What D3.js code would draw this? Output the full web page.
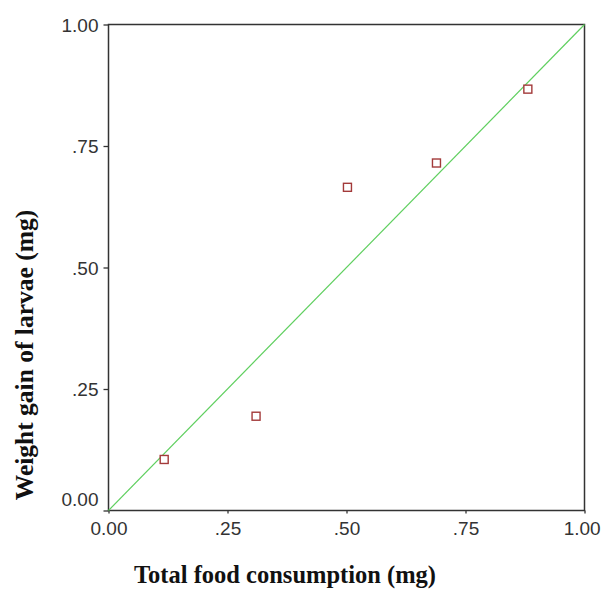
<!DOCTYPE html>
<html><head><meta charset="utf-8">
<script src="https://cdn.jsdelivr.net/npm/d3@7"></script>
<style>body{margin:0;background:#fff}svg{display:block}</style>
</head><body>
<script>
const xValues = [0.117, 0.31, 0.502, 0.689, 0.881];
const yValues = [0.105, 0.194, 0.665, 0.715, 0.867];
const tickValues = [0, 0.25, 0.5, 0.75, 1];
const tickLabels = ["0.00", ".25", ".50", ".75", "1.00"];
const fitLine = [[0, 0], [1, 1]];
const xTitle = "Total food consumption (mg)";
const yTitle = "Weight gain of larvae (mg)";

const W = 606, H = 593;
const svg = d3.select("body").append("svg").attr("width", W).attr("height", H);
const x = d3.scaleLinear().domain([0, 1]).range([108.5, 584.5]);
const y = d3.scaleLinear().domain([0, 1]).range([510.5, 24.5]);

// frame
svg.append("rect").attr("x", x(0)).attr("y", y(1))
  .attr("width", x(1) - x(0)).attr("height", y(0) - y(1))
  .attr("fill", "none").attr("stroke", "#333").attr("stroke-width", 1.5);

// y axis
const yAxis = svg.append("g").attr("transform", `translate(${x(0)},0)`)
  .call(d3.axisLeft(y).tickValues(tickValues).tickSize(5).tickSizeOuter(0)
    .tickFormat((d, i) => tickLabels[i]));
yAxis.select(".domain").remove();
yAxis.selectAll("line").attr("stroke", "#333").attr("stroke-width", 1.3);
yAxis.selectAll("text").attr("font-family", "Liberation Sans, Arial, sans-serif")
  .attr("font-size", 19).attr("fill", "#333").attr("x", -10)
  .attr("dy", (d) => d === 0 ? "-0.25em" : "0.35em");

// x axis
const xAxis = svg.append("g").attr("transform", `translate(0,${y(0)})`)
  .call(d3.axisBottom(x).tickValues(tickValues).tickSize(3).tickSizeOuter(0)
    .tickFormat((d, i) => tickLabels[i]));
xAxis.select(".domain").remove();
xAxis.selectAll("line").attr("stroke", "#333").attr("stroke-width", 1.3);
xAxis.selectAll("text").attr("font-family", "Liberation Sans, Arial, sans-serif")
  .attr("font-size", 19).attr("fill", "#333").attr("y", 11)
  .attr("dx", (d) => d === 1 ? "-0.15em" : 0);

// fit line
svg.append("path").datum(fitLine)
  .attr("d", d3.line().x(d => x(d[0])).y(d => y(d[1])))
  .attr("stroke", "#5fcf5f").attr("stroke-width", 1.2).attr("fill", "none");

// points
const s = 8;
svg.selectAll("rect.pt").data(xValues).enter().append("rect").attr("class", "pt")
  .attr("x", (d) => x(d) - s / 2).attr("y", (d, i) => y(yValues[i]) - s / 2)
  .attr("width", s).attr("height", s)
  .attr("fill", "#fff").attr("stroke", "#a33a3a").attr("stroke-width", 1.4);

// titles
svg.append("text").attr("x", 285).attr("y", 583).attr("text-anchor", "middle")
  .attr("font-family", "Liberation Serif, Times New Roman, serif").attr("font-weight", "bold")
  .attr("font-size", 24.5).attr("fill", "#111").text(xTitle);
svg.append("text").attr("transform", "translate(33,355) rotate(-90)").attr("text-anchor", "middle")
  .attr("font-family", "Liberation Serif, Times New Roman, serif").attr("font-weight", "bold")
  .attr("font-size", 25.5).attr("fill", "#111").text(yTitle);
</script>
</body></html>
